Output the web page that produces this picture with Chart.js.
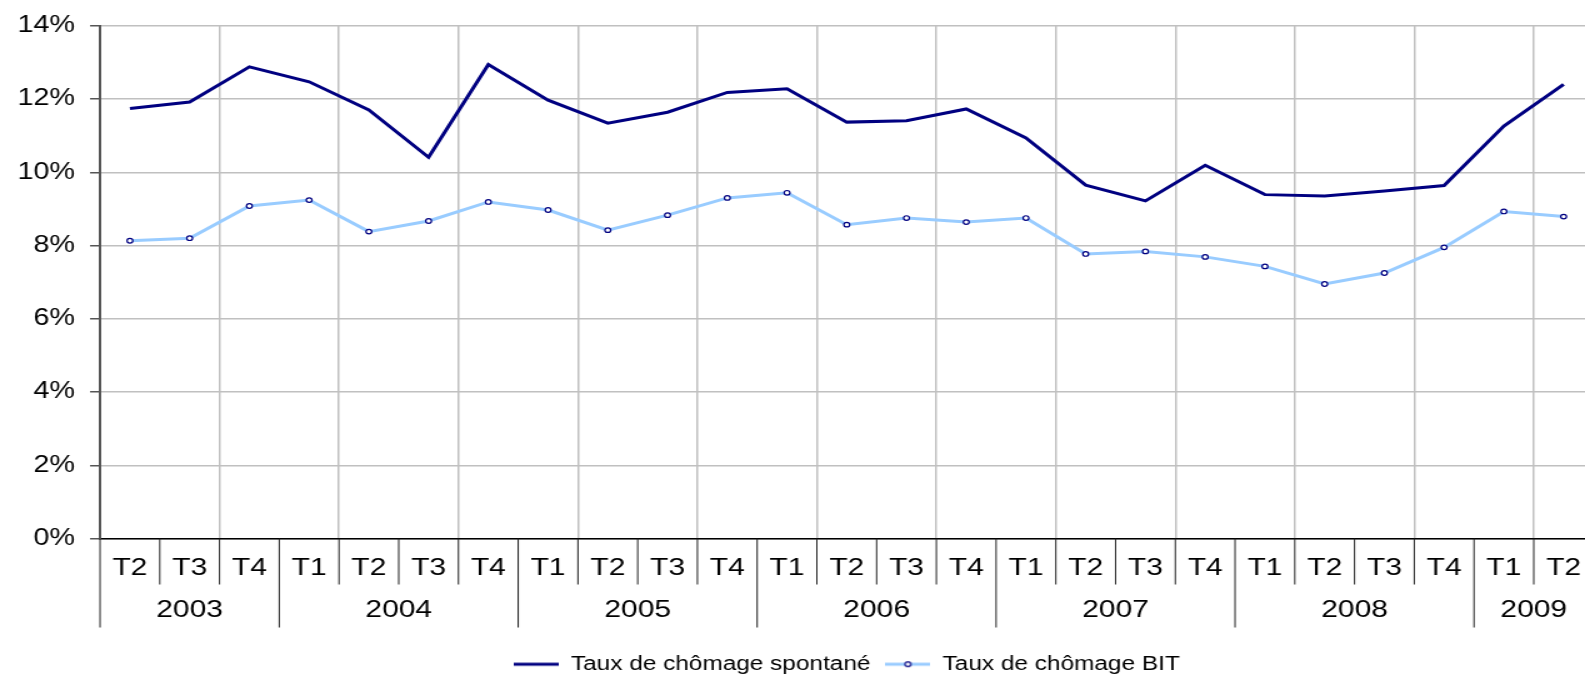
<!DOCTYPE html>
<html>
<head>
<meta charset="utf-8">
<script src="https://cdn.jsdelivr.net/npm/chart.js@4/dist/chart.umd.min.js"></script>
<style>
  html, body { margin: 0; padding: 0; background: #fff; }
  .frame { width: 1585px; height: 675px; overflow: hidden; }
  .stretch { width: 1280px; height: 675px; transform: scaleX(1.25); transform-origin: 0 0; }
</style>
</head>
<body>
<div class="frame">
  <div class="stretch"><canvas id="myChart" width="1280" height="675"></canvas></div>
</div>
<script>
const quarters = [
  "T2", "T3", "T4",
  "T1", "T2", "T3", "T4",
  "T1", "T2", "T3", "T4",
  "T1", "T2", "T3", "T4",
  "T1", "T2", "T3", "T4",
  "T1", "T2", "T3", "T4",
  "T1", "T2",
];
const years = ["2003", "2004", "2005", "2006", "2007", "2008", "2009"];
const quartersPerYear = [3, 4, 4, 4, 4, 4, 2];

const spontane = [
  11.74, 11.92, 12.88, 12.47, 11.7, 10.41, 12.94, 11.97, 11.34, 11.64, 12.18,
  12.28, 11.37, 11.41, 11.73, 10.94, 9.65, 9.22, 10.19, 9.39, 9.35, 9.49, 9.64,
  11.26, 12.4,
];
const bit = [
  8.13, 8.2, 9.08, 9.24, 8.38, 8.67, 9.19, 8.97, 8.42, 8.83, 9.3, 9.44, 8.57,
  8.75, 8.64, 8.75, 7.77, 7.84, 7.69, 7.43, 6.95, 7.25, 7.95, 8.93, 8.79,
];
const yTicks = [0, 2, 4, 6, 8, 10, 12, 14];

const NAVY = "#000080";
const LIGHT = "#99ccff";
const FONT = "'Liberation Sans', Arial, sans-serif";

// legend swatches: a line, with a small marker for the BIT series
function swatch(color, marker) {
  const c = document.createElement("canvas");
  c.width = 36;
  c.height = 10;
  const g = c.getContext("2d");
  g.strokeStyle = color;
  g.lineWidth = 3;
  g.beginPath();
  g.moveTo(0, 5);
  g.lineTo(36, 5);
  g.stroke();
  if (marker) {
    g.beginPath();
    g.arc(18, 5, 2.3, 0, Math.PI * 2);
    g.fillStyle = "#fff";
    g.fill();
    g.lineWidth = 1.2;
    g.strokeStyle = NAVY;
    g.stroke();
  }
  return c;
}
const swatches = [swatch(NAVY, false), swatch(LIGHT, true)];

// year groups and separators under the quarter labels
const yearAxis = {
  id: "yearAxis",
  afterDraw(chart) {
    const x = chart.scales.x;
    const ctx = chart.ctx;
    const bottom = chart.chartArea.bottom;
    const w = x.getPixelForValue(1) - x.getPixelForValue(0);
    const edge = (k) => x.getPixelForValue(0) - w / 2 + k * w;
    const starts = [0];
    quartersPerYear.forEach((n, i) => starts.push(starts[i] + n));

    ctx.save();
    ctx.strokeStyle = "#222";
    ctx.lineWidth = 1;
    for (let k = 0; k <= quarters.length; k++) {
      const long = starts.includes(k);
      ctx.beginPath();
      ctx.moveTo(edge(k), bottom);
      ctx.lineTo(edge(k), bottom + (long ? 89 : 46));
      ctx.stroke();
    }
    ctx.fillStyle = "#000";
    ctx.font = "24px " + FONT;
    ctx.textAlign = "center";
    ctx.textBaseline = "middle";
    years.forEach((yr, i) => {
      const mid = (edge(starts[i]) + edge(starts[i + 1])) / 2;
      ctx.fillText(yr, mid, bottom + 72);
    });
    ctx.restore();
  },
};

new Chart(document.getElementById("myChart"), {
  type: "line",
  data: {
    labels: quarters,
    datasets: [
      {
        label: "Taux de chômage spontané",
        data: spontane,
        borderColor: NAVY,
        borderWidth: 3,
        pointRadius: 0,
        tension: 0,
      },
      {
        label: "Taux de chômage BIT",
        data: bit,
        borderColor: LIGHT,
        borderWidth: 3,
        pointRadius: 2.3,
        pointBorderWidth: 1.2,
        pointBorderColor: NAVY,
        pointBackgroundColor: "#fff",
        tension: 0,
      },
    ],
  },
  plugins: [yearAxis],
  options: {
    responsive: false,
    animation: false,
    devicePixelRatio: 1,
    layout: { padding: { left: 2, right: 4, top: 4, bottom: -9 } },
    scales: {
      x: {
        offset: true,
        grid: {
          offset: true,
          drawTicks: false,
          lineWidth: 1.5,
          color: (ctx) => (ctx.index > 0 && ctx.index % 2 === 0 ? "#c0c0c0" : "rgba(0,0,0,0)"),
        },
        border: { color: "#000", width: 1.5 },
        ticks: {
          color: "#000",
          padding: 15,
          maxRotation: 0,
          autoSkip: false,
          font: { family: FONT, size: 24 },
        },
        afterFit: (scale) => {
          scale.height = 104;
        },
      },
      y: {
        min: 0,
        max: 14,
        afterBuildTicks: (scale) => {
          scale.ticks = yTicks.map((v) => ({ value: v }));
        },
        grid: {
          color: "#c0c0c0",
          lineWidth: 1.5,
          tickLength: 8,
          tickColor: "#555",
        },
        border: { color: "#555", width: 2 },
        ticks: {
          color: "#000",
          padding: 12,
          font: { family: FONT, size: 23 },
          callback: (v) => v + "%",
        },
      },
    },
    plugins: {
      tooltip: { enabled: false },
      legend: {
        position: "bottom",
        fullSize: false,
        labels: {
          color: "#000",
          font: { family: FONT, size: 19.5 },
          usePointStyle: true,
          pointStyleWidth: 36,
          padding: 12,
          generateLabels: (chart) =>
            chart.data.datasets.map((ds, i) => ({
              text: ds.label,
              pointStyle: swatches[i],
              datasetIndex: i,
              hidden: false,
              lineWidth: 0,
              strokeStyle: "rgba(0,0,0,0)",
              fillStyle: "rgba(0,0,0,0)",
            })),
        },
      },
    },
  },
});
</script>
</body>
</html>
